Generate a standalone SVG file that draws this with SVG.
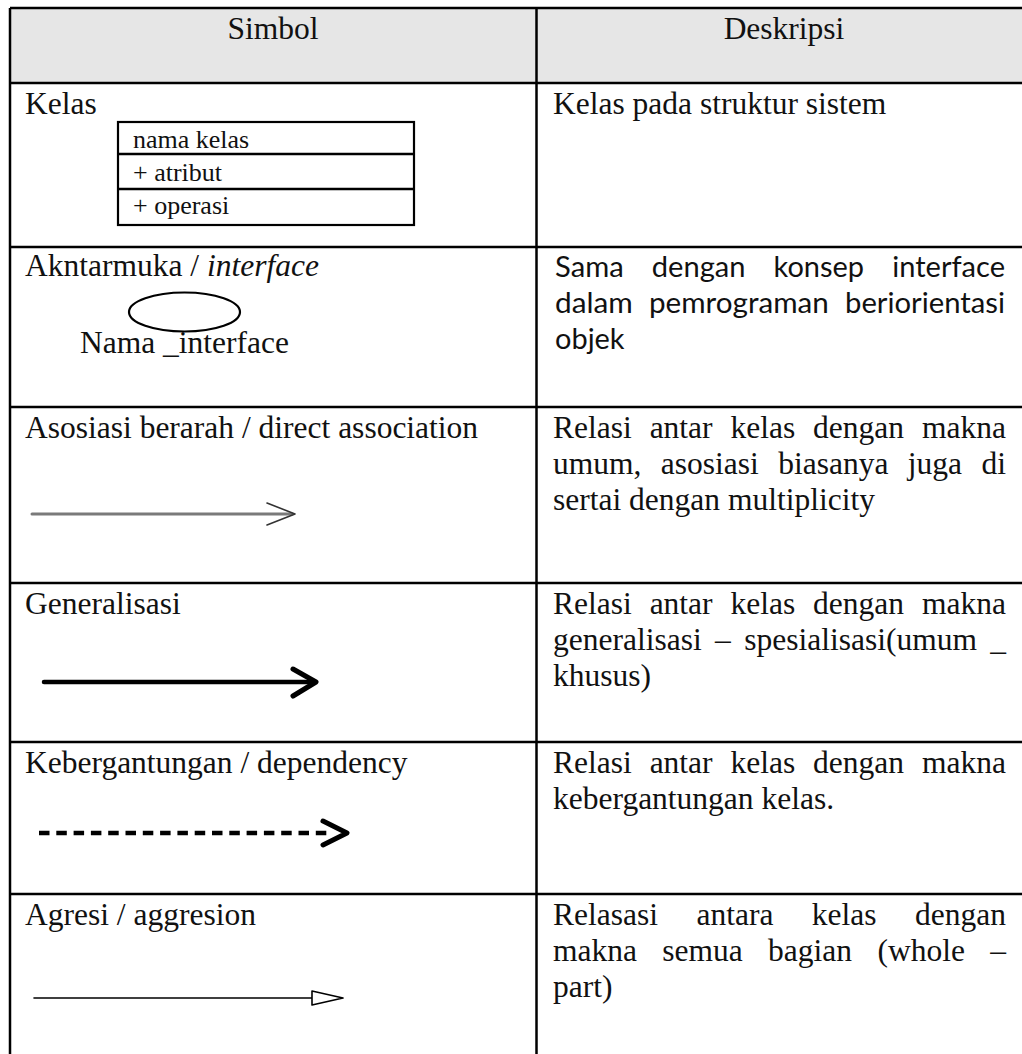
<svg xmlns="http://www.w3.org/2000/svg" width="1022" height="1054" viewBox="0 0 1022 1054">
  <style>
    .grid { stroke: #000; stroke-width: 2.5; fill: none; }
    .t { font-family: "Liberation Serif", "Times New Roman", serif; font-size: 31.5px; fill: #111; }
    .small { font-family: "Liberation Serif", "Times New Roman", serif; font-size: 26px; fill: #111; }
    .cal { font-family: Lato, "Open Sans", sans-serif; font-size: 28.5px; fill: #111; }
    .box { fill: #fff; stroke: #000; stroke-width: 2.2; }
  </style>
  <rect width="1022" height="1054" fill="#fff"/>

  <!-- table frame -->
  <g id="table">
    <rect x="10" y="8" width="1022" height="75" fill="#e6e6e6"/>
    <path class="grid" d="M10 8H1022 M10 83H1022 M10 247H1022 M10 407H1022 M10 583H1022 M10 742H1022 M10 894H1022 M10 8V1054 M536.5 8V1054"/>
  </g>

  <!-- header -->
  <g id="header">
    <text class="t" x="273" y="39" text-anchor="middle">Simbol</text>
    <text class="t" x="784" y="39" text-anchor="middle">Deskripsi</text>
  </g>

  <!-- class symbol -->
  <g id="row-kelas">
    <text class="t" x="25" y="114">Kelas</text>
    <rect class="box" x="118" y="122" width="296" height="103"/>
    <path class="grid" stroke-width="2.2" d="M118 154H414 M118 189H414"/>
    <text class="small" x="133" y="148">nama kelas</text>
    <text class="small" x="133" y="181">+ atribut</text>
    <text class="small" x="133" y="214">+ operasi</text>
    <text class="t" x="553" y="114">Kelas pada struktur sistem</text>
  </g>

  <!-- interface symbol -->
  <g id="row-interface">
    <text class="t" x="25" y="276">Akntarmuka / <tspan font-style="italic">interface</tspan></text>
    <ellipse cx="184.5" cy="312" rx="55.5" ry="19.5" fill="none" stroke="#000" stroke-width="2.2"/>
    <text class="t" x="80" y="353">Nama _interface</text>
    <text class="cal" y="277">
      <tspan x="555" textLength="68.7" lengthAdjust="spacingAndGlyphs">Sama</tspan>
      <tspan x="651.8" textLength="93.7" lengthAdjust="spacingAndGlyphs">dengan</tspan>
      <tspan x="773.5" textLength="90.5" lengthAdjust="spacingAndGlyphs">konsep</tspan>
      <tspan x="892.2" textLength="112.8" lengthAdjust="spacingAndGlyphs">interface</tspan>
    </text>
    <text class="cal" y="313">
      <tspan x="555" textLength="77.8" lengthAdjust="spacingAndGlyphs">dalam</tspan>
      <tspan x="649" textLength="179.8" lengthAdjust="spacingAndGlyphs">pemrograman</tspan>
      <tspan x="845" textLength="160" lengthAdjust="spacingAndGlyphs">beriorientasi</tspan>
    </text>
    <text class="cal" x="555" y="349" textLength="69.6" lengthAdjust="spacingAndGlyphs">objek</text>
  </g>

  <!-- directed association -->
  <g id="row-asosiasi">
    <text class="t" x="25" y="438">Asosiasi berarah / direct association</text>
    <text class="t" y="438"><tspan x="553">Relasi</tspan><tspan x="649.65">antar</tspan><tspan x="730.5">kelas</tspan><tspan x="813.1">dengan</tspan><tspan x="922">makna</tspan></text>
    <text class="t" y="474"><tspan x="553">umum,</tspan><tspan x="660.8">asosiasi</tspan><tspan x="778.2">biasanya</tspan><tspan x="907.8">juga</tspan><tspan x="981.5">di</tspan></text>
    <text class="t" x="553" y="510">sertai dengan multiplicity</text>
  </g>

  <!-- generalization -->
  <g id="row-generalisasi">
    <text class="t" x="25" y="614">Generalisasi</text>
    <text class="t" y="614"><tspan x="553">Relasi</tspan><tspan x="649.65">antar</tspan><tspan x="730.5">kelas</tspan><tspan x="813.1">dengan</tspan><tspan x="922">makna</tspan></text>
    <text class="t" y="650"><tspan x="553">generalisasi</tspan><tspan x="715.06">–</tspan><tspan x="744.16">spesialisasi(umum</tspan><tspan x="990.25">_</tspan></text>
    <text class="t" x="553" y="686">khusus)</text>
  </g>

  <!-- dependency -->
  <g id="row-dependency">
    <text class="t" x="25" y="773">Kebergantungan / dependency</text>
    <text class="t" y="773"><tspan x="553">Relasi</tspan><tspan x="649.65">antar</tspan><tspan x="730.5">kelas</tspan><tspan x="813.1">dengan</tspan><tspan x="922">makna</tspan></text>
    <text class="t" x="553" y="809">kebergantungan kelas.</text>
  </g>

  <!-- aggregation -->
  <g id="row-agresi">
    <text class="t" x="25" y="925">Agresi / aggresion</text>
    <text class="t" y="925"><tspan x="553">Relasasi</tspan><tspan x="696.45">antara</tspan><tspan x="811.85">kelas</tspan><tspan x="915.03">dengan</tspan></text>
    <text class="t" y="961"><tspan x="553">makna</tspan><tspan x="662.31">semua</tspan><tspan x="768.12">bagian</tspan><tspan x="877.43">(whole</tspan><tspan x="990.25">–</tspan></text>
    <text class="t" x="553" y="997">part)</text>
  </g>

  <!-- relation symbols -->
  <g id="connectors" fill="none" stroke-linecap="round" stroke-linejoin="round">
    <!-- directed association: grey shaft, open head -->
    <path d="M32 514H292" stroke="#7a7a7a" stroke-width="3"/>
    <path d="M267 503L295 514L267 525" stroke="#333" stroke-width="1.6"/>
    <!-- generalization: bold shaft, bold open head -->
    <path d="M44 682H314" stroke="#000" stroke-width="4.5"/>
    <path d="M293 669L316 682L293 696" stroke="#000" stroke-width="5"/>
    <!-- dependency: dashed shaft -->
    <path d="M39 833H330" stroke="#000" stroke-width="4.5" stroke-dasharray="10.5 6.8" stroke-linecap="butt"/>
    <path d="M323 821L347 833L323 845" stroke="#000" stroke-width="5"/>
    <!-- aggregation: thin shaft, hollow triangle head -->
    <path d="M34 998H312" stroke="#000" stroke-width="1.6"/>
    <path d="M312 991L343 998L312 1005Z" stroke="#000" stroke-width="1.6" fill="#fff"/>
  </g>
</svg>
